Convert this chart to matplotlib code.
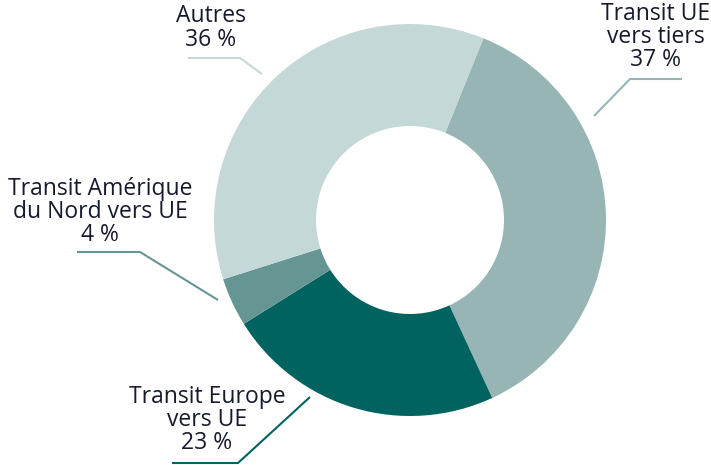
import matplotlib.pyplot as plt

# share of each flow, clockwise from the Autres / Transit UE boundary
labels = ['Transit UE\nvers tiers', 'Transit Europe\nvers UE', 'Transit Amérique\ndu Nord vers UE', 'Autres']
values = [37, 23, 4, 36]
colors = ['#97b5b5', '#006360', '#669694', '#c5d8d8']

W, H = 711, 465
fig = plt.figure(figsize=(W / 100, H / 100), dpi=100)
ax = fig.add_axes([0, 0, 1, 1])

cx, cy = 410, H - 220
R = 196
ax.pie(values, colors=colors, startangle=68, counterclock=False,
       center=(cx, cy), radius=R, wedgeprops=dict(width=102, linewidth=0),
       frame=True)
ax.set_xlim(0, W)
ax.set_ylim(0, H)
ax.set_aspect('equal')
ax.axis('off')

# label text position (pixels from top-left) and leader line path
text_pos = [(656, 37), (207, 420), (100, 212), (211, 28)]
leaders = [
    [(594, 116), (630, 79), (682, 79)],
    [(310, 397), (238, 463), (172, 463)],
    [(218, 300), (140, 252), (77, 252)],
    [(262, 74), (240, 58), (188, 58)],
]

for lab, v, col, (tx, ty), path in zip(labels, values, colors, text_pos, leaders):
    ax.text(tx, H - ty, f'{lab}\n{v} %',
            ha='center', va='center', fontsize=16.5, family='Open Sans',
            color='#161a2c', linespacing=0.95)
    xs = [p[0] for p in path]
    ys = [H - p[1] for p in path]
    ax.plot(xs, ys, color=col, lw=1.5, solid_capstyle='butt')

fig.savefig('out.png', dpi=100)
